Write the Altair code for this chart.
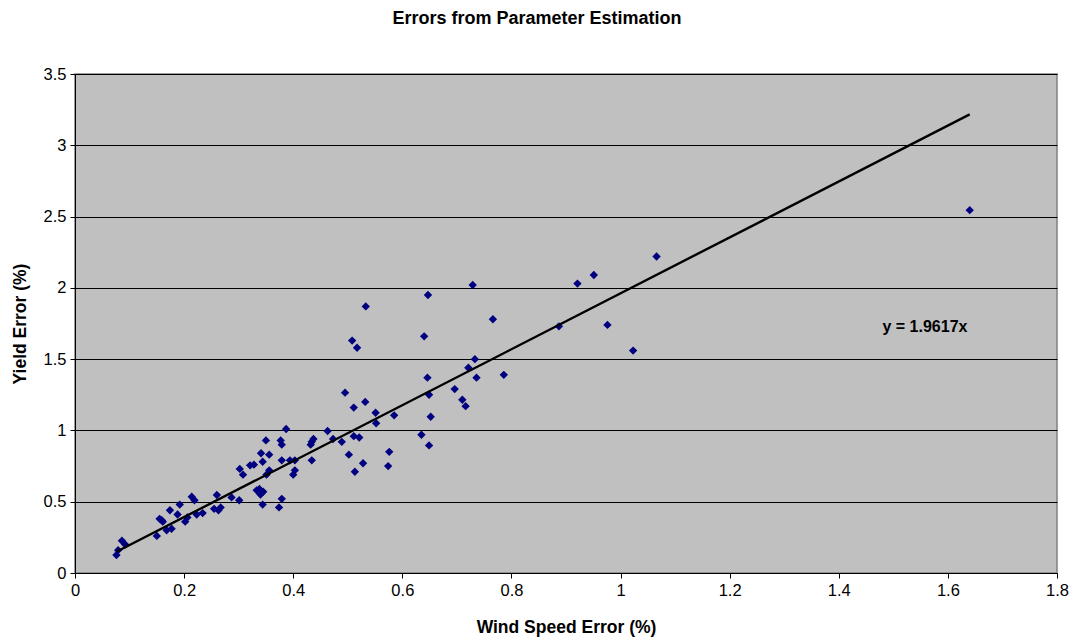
import altair as alt
import pandas as pd

wind = [0.076, 0.079, 0.086, 0.092, 0.150, 0.159, 0.161, 0.168, 0.174, 0.177,
        0.188, 0.192, 0.202, 0.206, 0.214, 0.219, 0.223, 0.234, 0.260, 0.263,
        0.267, 0.287, 0.301, 0.302, 0.308, 0.321, 0.328, 0.333, 0.338, 0.340,
        0.344, 0.341, 0.344, 0.350, 0.356, 0.351, 0.356, 0.374, 0.379, 0.379,
        0.377, 0.379, 0.387, 0.400, 0.403, 0.403, 0.394, 0.495, 0.511, 0.532,
        0.551, 0.552, 0.585, 0.463, 0.473, 0.489, 0.511, 0.521, 0.502, 0.528,
        0.513, 0.576, 0.574, 0.434, 0.437, 0.432, 0.434, 0.635, 0.649, 0.652,
        0.649, 0.646, 0.729, 0.921, 0.766, 0.887, 0.976, 0.733, 0.721, 0.736,
        0.786, 0.696, 0.710, 0.716, 1.066, 1.023, 0.533, 0.508, 0.517, 0.640,
        0.647, 0.951, 1.640, 0.155, 0.255, 0.345]
yld = [0.126, 0.160, 0.226, 0.200, 0.260, 0.370, 0.360, 0.300, 0.440, 0.310,
       0.410, 0.480, 0.360, 0.390, 0.535, 0.510, 0.410, 0.420, 0.547, 0.440,
       0.460, 0.530, 0.510, 0.730, 0.690, 0.755, 0.760, 0.580, 0.590, 0.550,
       0.480, 0.840, 0.780, 0.930, 0.830, 0.690, 0.720, 0.460, 0.520, 0.790,
       0.930, 0.900, 1.010, 0.690, 0.720, 0.790, 0.790, 1.265, 1.160, 1.200,
       1.124, 1.050, 1.106, 0.996, 0.940, 0.920, 0.960, 0.950, 0.830, 0.770,
       0.710, 0.850, 0.750, 0.920, 0.940, 0.900, 0.790, 0.970, 0.895, 1.096,
       1.250, 1.370, 2.020, 2.030, 1.780, 1.730, 1.740, 1.500, 1.440, 1.370,
       1.390, 1.290, 1.215, 1.170, 2.220, 1.560, 1.870, 1.630, 1.580, 1.660,
       1.950, 2.090, 2.545, 0.380, 0.450, 0.570]

slope = 1.9617
trend_x = [min(wind), max(wind)]
trend_y = [slope * v for v in trend_x]

x_ticks = [0, 0.2, 0.4, 0.6, 0.8, 1, 1.2, 1.4, 1.6, 1.8]
y_ticks = [0, 0.5, 1, 1.5, 2, 2.5, 3, 3.5]

pts = pd.DataFrame({"wind": wind, "yield": yld})
trend = pd.DataFrame({"wind": trend_x, "yield": trend_y})
label = pd.DataFrame({"wind": [1.558], "yield": [1.725], "text": ["y = 1.9617x"]})

font = "Liberation Sans"

xsc = alt.Scale(domain=[0, 1.8], nice=False, zero=False)
ysc = alt.Scale(domain=[0, 3.5], nice=False, zero=False)

xax = alt.Axis(values=x_ticks, grid=False, title="Wind Speed Error (%)",
               format="~g", labelFlush=False,
               labelFontSize=16.5, titleFontSize=17.5, titleFontWeight="bold",
               labelColor="black", titleColor="black", domainColor="black",
               tickColor="black", tickSize=5, labelPadding=4, titlePadding=20,
               labelFont=font, titleFont=font)
yax = alt.Axis(values=y_ticks, grid=True, gridColor="black", gridWidth=1,
               format="~g", labelFlush=False,
               title="Yield Error (%)", labelFontSize=16.5, titleFontSize=17.5,
               titleFontWeight="bold", labelColor="black", titleColor="black",
               domainColor="black", tickColor="black", tickSize=5,
               labelPadding=4, titlePadding=14, labelFont=font, titleFont=font)

points = alt.Chart(pts).mark_point(shape="diamond", filled=True, color="#000080",
                                    size=70, opacity=1).encode(
    x=alt.X("wind:Q", scale=xsc, axis=xax),
    y=alt.Y("yield:Q", scale=ysc, axis=yax),
)

line = alt.Chart(trend).mark_line(color="black", strokeWidth=2.4).encode(
    x=alt.X("wind:Q", scale=xsc),
    y=alt.Y("yield:Q", scale=ysc),
)

txt = alt.Chart(label).mark_text(font=font, fontSize=16, fontWeight="bold",
                                 color="black").encode(
    x=alt.X("wind:Q", scale=xsc),
    y=alt.Y("yield:Q", scale=ysc),
    text="text:N",
)

chart = alt.layer(points, line, txt).properties(
    width=982, height=499,
    title=alt.TitleParams("Errors from Parameter Estimation", fontSize=18,
                          fontWeight="bold", font=font, color="black",
                          anchor="middle", dx=-29, offset=38),
    autosize=alt.AutoSizeParams(type="none"),
    padding={"left": 75, "top": 74, "right": 18, "bottom": 69},
    background="white",
).configure_view(fill="#C0C0C0", stroke="#808080", strokeWidth=1.5)

chart.save("out.html", embed_options={"renderer": "svg", "actions": False})
